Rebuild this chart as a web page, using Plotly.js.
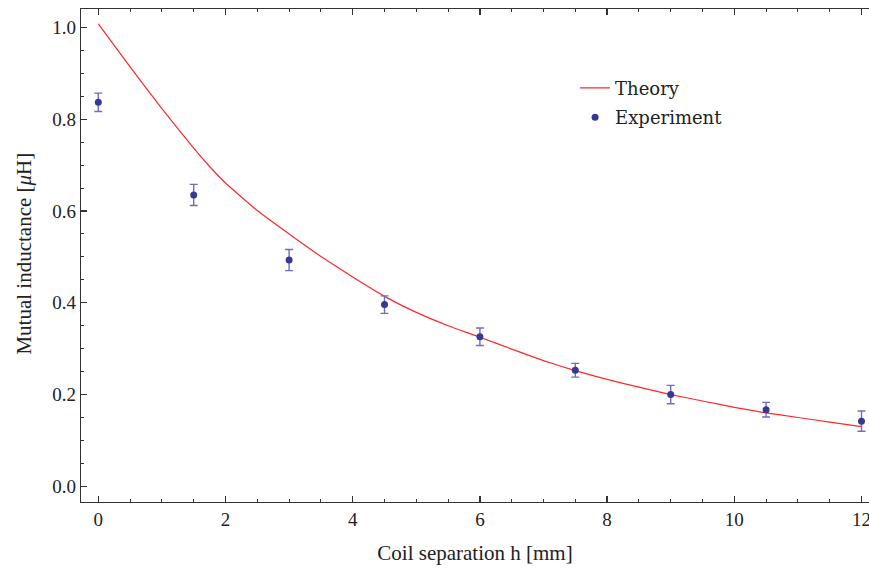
<!DOCTYPE html>
<html>
<head>
<meta charset="utf-8">
<script src="https://cdn.plot.ly/plotly-3.0.1.min.js"></script>
<style>html,body{margin:0;padding:0;background:#fff;overflow:hidden}#chart{width:869px;height:568px}</style>
</head>
<body>
<div id="chart"></div>
<script>
// Theory curve
const theoryX = [0, 0.5, 1, 1.5, 1.75, 2, 2.5, 3, 3.5, 4, 4.5, 5, 5.5, 6, 6.5, 7, 7.5, 8, 8.5, 9, 9.5, 10, 10.5, 11, 11.5, 12];
const theoryY = [1.008, 0.914, 0.823, 0.737, 0.697, 0.661, 0.601, 0.550, 0.501, 0.456, 0.414, 0.379, 0.350, 0.325, 0.299, 0.274, 0.252, 0.233, 0.216, 0.200, 0.186, 0.172, 0.160, 0.150, 0.140, 0.130];
// Experiment points
const expX = [0, 1.5, 3, 4.5, 6, 7.5, 9, 10.5, 12];
const expY = [0.837, 0.635, 0.493, 0.396, 0.326, 0.253, 0.200, 0.167, 0.142];
const expErr = [0.020, 0.023, 0.023, 0.019, 0.019, 0.015, 0.020, 0.016, 0.022];
const yTitle = 'Mutual inductance [<i>μ</i>H]';
const xTitle = 'Coil separation h [mm]';

const serif = "Liberation Serif, Times New Roman, serif";
const traces = [
  {x: theoryX, y: theoryY, type: 'scatter', mode: 'lines', name: 'Theory', legendgroup: 'a',
   line: {color: 'rgb(255,40,40)', width: 1.2, shape: 'spline', smoothing: 0.4}},
  {x: expX, y: expY, type: 'scatter', mode: 'markers', name: 'Experiment', legendgroup: 'b',
   marker: {color: 'rgb(55,55,150)', size: 7},
   error_y: {type: 'data', array: expErr, visible: true, color: 'rgb(110,110,190)', thickness: 1.4, width: 4}}
];
const layout = {
  width: 869, height: 568,
  margin: {l: 81, r: 0, t: 9, b: 66},
  paper_bgcolor: '#fff', plot_bgcolor: '#fff',
  showlegend: true,
  legend: {x: 0.627, y: 0.877, xanchor: 'left', yanchor: 'top', bgcolor: 'rgba(0,0,0,0)',
           font: {family: "DejaVu Serif, serif", size: 18, color: '#222'},
           traceorder: 'grouped', tracegroupgap: 3, itemwidth: 30},
  xaxis: {range: [-0.272, 12.118], tick0: 0, dtick: 2, ticks: 'inside', ticklen: 6, tickwidth: 1.2,
          tickcolor: '#333', showline: true, linecolor: '#333', linewidth: 1.2, mirror: 'ticks',
          showgrid: false, zeroline: false, ticklabeloverflow: 'allow',
          minor: {dtick: 0.5, ticks: 'inside', ticklen: 3, tickcolor: '#333', tickwidth: 1, showgrid: false},
          tickfont: {family: serif, size: 19, color: '#222'},
          title: {text: xTitle, font: {family: serif, size: 21, color: '#222'}, standoff: 16}},
  yaxis: {range: [-0.0342, 1.0403], tick0: 0, dtick: 0.2, tickformat: '.1f', ticks: 'inside', ticklen: 6, tickwidth: 1.2,
          tickcolor: '#333', showline: true, linecolor: '#333', linewidth: 1.2, mirror: false,
          showgrid: false, zeroline: false,
          minor: {dtick: 0.05, ticks: 'inside', ticklen: 3, tickcolor: '#333', tickwidth: 1, showgrid: false},
          tickfont: {family: serif, size: 19, color: '#222'}},
  annotations: [{text: yTitle, xref: 'paper', yref: 'paper', x: -0.0723, y: 0.504,
                 xanchor: 'center', yanchor: 'middle', textangle: -90, showarrow: false,
                 font: {family: serif, size: 21, color: '#222'}}]
};
Plotly.newPlot('chart', traces, layout, {displayModeBar: false, staticPlot: true});
</script>
</body>
</html>
